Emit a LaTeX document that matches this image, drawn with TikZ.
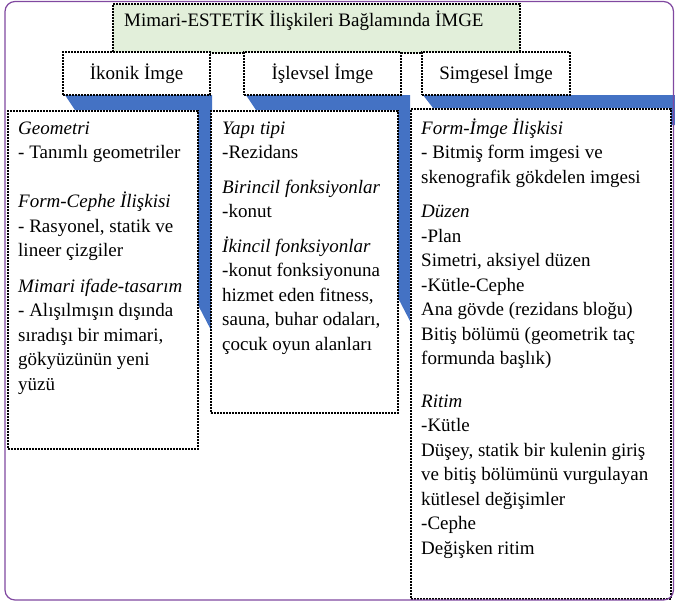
\documentclass[tikz,border=0pt]{standalone}
\usepackage{fontspec}
\setmainfont{Liberation Serif}
\definecolor{ribbon}{RGB}{68,114,196}
\definecolor{titlegreen}{RGB}{226,239,218}
\definecolor{framepurple}{RGB}{128,72,160}
\tikzset{
  dotbox/.style={draw=black,line width=1.7pt,dash pattern=on 1.7pt off 1.3pt,fill=white},
  hdr/.style={dotbox,inner sep=0pt,font=\fontsize{19}{24.5}\selectfont},
  txt/.style={align=left,inner sep=0pt,anchor=north west,font=\fontsize{19}{24.5}\selectfont},
}
\begin{document}
\begin{tikzpicture}[x=1pt,y=-1pt]
\useasboundingbox (0,0) rectangle (675,603);
%ribbons
\fill[ribbon] (65,95)--(212,95)--(212,332)--(197,303)--(197,110)--(75,110)--cycle;
\fill[ribbon] (246,95)--(410,95)--(410,321)--(397,296)--(397,110)--(256,110)--cycle;
\fill[ribbon] (423,95)--(675,95)--(675,125)--(670,125)--(670,108)--(433,108)--cycle;
%headers
\node[hdr,fill=titlegreen,anchor=north west,minimum width=407pt,minimum height=49pt] (title) at (112,3) {};
\node[txt] (titletxt) at (124,9) {\strut Mimari-ESTETİK İlişkileri Bağlamında İMGE};
\node[hdr,minimum width=147pt,minimum height=43pt] (ikonik) at (136.5,73.5) {İkonik İmge};
\node[hdr,minimum width=157pt,minimum height=43pt] (islevsel) at (322.5,73.5) {İşlevsel İmge};
\node[hdr,minimum width=148pt,minimum height=43pt] (simgesel) at (496,73.5) {Simgesel İmge};
%boxes
\node[dotbox,anchor=north west,minimum width=190pt,minimum height=338pt] (ikonikbox) at (7,110) {};
\node[dotbox,anchor=north west,minimum width=187pt,minimum height=302pt] (islevselbox) at (210,110) {};
\node[dotbox,anchor=north west,minimum width=260pt,minimum height=490pt] (simgeselbox) at (410,108) {};
%text
\node[txt] (ikoniktxt) at (18,117) {\strut\textit{Geometri}\\- Tanımlı geometriler\\[24.5pt]
  \textit{Form-Cephe İlişkisi}\\- Rasyonel, statik ve\\lineer çizgiler\\[11pt]
  \textit{Mimari ifade-tasarım}\\- Alışılmışın dışında\\sıradışı bir mimari,\\gökyüzünün yeni\\yüzü};
\node[txt] (islevseltxt) at (222,117) {\strut\textit{Yapı tipi}\\-Rezidans\\[10pt]
  \textit{Birincil fonksiyonlar}\\-konut\\[10pt]
  \textit{İkincil fonksiyonlar}\\-konut fonksiyonuna\\hizmet eden fitness,\\sauna, buhar odaları,\\çocuk oyun alanları};
\node[txt] (simgeseltxt) at (421,117) {\strut\textit{Form-İmge İlişkisi}\\- Bitmiş form imgesi ve\\skenografik gökdelen imgesi\\[10pt]
  \textit{Düzen}\\-Plan\\Simetri, aksiyel düzen\\-Kütle-Cephe\\Ana gövde (rezidans bloğu)\\Bitiş bölümü (geometrik taç\\formunda başlık)\\[18pt]
  \textit{Ritim}\\-Kütle\\Düşey, statik bir kulenin giriş\\ve bitiş bölümünü vurgulayan\\kütlesel değişimler\\-Cephe\\Değişken ritim};
%frame
\draw[framepurple,line width=1.2pt,rounded corners=10pt] (5,1.5) rectangle (673.5,600);
\end{tikzpicture}
\end{document}
